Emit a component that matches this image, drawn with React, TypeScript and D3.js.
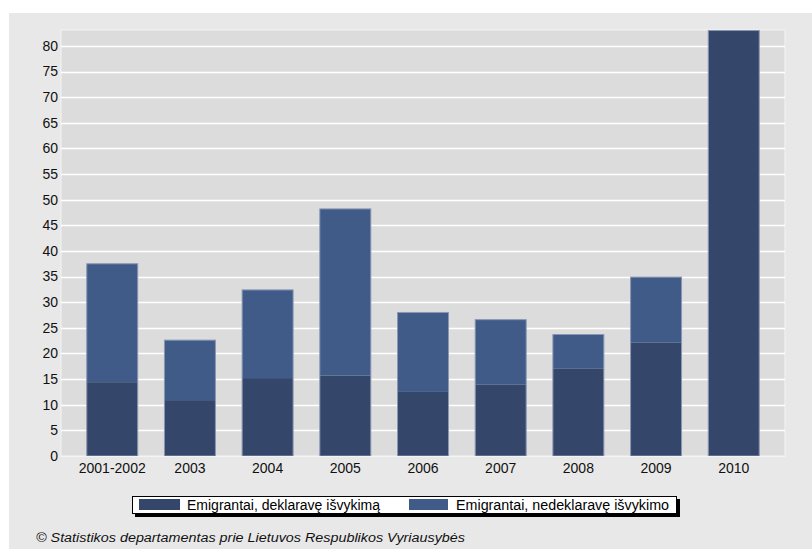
import React from "react";
import * as d3 from "d3";

const categories = ["2001-2002", "2003", "2004", "2005", "2006", "2007", "2008", "2009", "2010"];
const declared = [14.4, 10.9, 15.2, 15.7, 12.5, 13.9, 17.1, 22.1, 83.0];
const undeclared = [23.1, 11.7, 17.2, 32.5, 15.5, 12.7, 6.6, 12.8, 0];
const seriesNames = ["Emigrantai, deklaravę išvykimą", "Emigrantai, nedeklaravę išvykimo"];
const yTicks = [0, 5, 10, 15, 20, 25, 30, 35, 40, 45, 50, 55, 60, 65, 70, 75, 80];
const footer = "© Statistikos departamentas prie Lietuvos Respublikos Vyriausybės";

const colors = ["#34476a", "#415b88"];

export default function App() {
  const W = 812, H = 549;
  const plot = { left: 61, top: 30, right: 785, bottom: 456 };

  const x = d3.scaleBand()
    .domain(categories)
    .range([plot.left, plot.right])
    .paddingInner(0.331)
    .paddingOuter(0.325);
  const y = d3.scaleLinear().domain([0, 83.1]).range([plot.bottom, plot.top]);

  const rows = categories.map((c, i) => ({ cat: c, a: declared[i], b: undeclared[i] }));
  const stacked = d3.stack<any>().keys(["a", "b"])(rows);

  const font = "Arial, 'Liberation Sans', sans-serif";

  return (
    <svg width={W} height={H} style={{ position: "absolute", left: 0, top: 0, display: "block" }}>
      <rect x={0} y={0} width={W} height={H} fill="#ffffff" />
      <rect x={9} y={13} width={W - 9} height={H - 13} fill="#e8e8e8" />
      <rect x={plot.left} y={plot.top} width={plot.right - plot.left} height={plot.bottom - plot.top}
        fill="#dcdcdc" stroke="#f4f4f4" strokeWidth={1} />
      {yTicks.map(t => (
        <g key={t}>
          {t > 0 && (
            <line x1={plot.left} x2={plot.right} y1={Math.round(y(t)) + 0.5} y2={Math.round(y(t)) + 0.5}
              stroke="#ffffff" strokeWidth={1.3} />
          )}
          <text x={58} y={y(t)} dy="0.35em" textAnchor="end" fontFamily={font} fontSize={14} fill="#111">
            {t}
          </text>
        </g>
      ))}
      {stacked.map((s, si) => (
        <g key={si}>
          {s.map((d, i) => (d[1] - d[0] > 0 ? (
            <rect key={i}
              x={x(categories[i])! + 0.5}
              y={y(d[1])}
              width={x.bandwidth() - 1}
              height={y(d[0]) - y(d[1])}
              fill={colors[si]} />
          ) : null))}
        </g>
      ))}
      {categories.map((c, i) => {
        const top = y(declared[i] + undeclared[i]);
        return (
          <rect key={c} x={x(c)! + 0.5} y={top} width={x.bandwidth() - 1} height={plot.bottom - top}
            fill="none" stroke="#8a97b4" strokeWidth={1} />
        );
      })}
      <line x1={plot.left} x2={plot.right} y1={plot.bottom + 0.5} y2={plot.bottom + 0.5} stroke="#f4f4f4" strokeWidth={1} />
      {categories.map(c => (
        <text key={c} x={x(c)! + x.bandwidth() / 2} y={468} dy="0.35em" textAnchor="middle"
          fontFamily={font} fontSize={14} fill="#111">{c}</text>
      ))}
      <g>
        <rect x={135} y={499} width={545} height={18} fill="#000" />
        <rect x={132.5} y={496.5} width={544} height={17} fill="#ffffff" stroke="#000" strokeWidth={1} />
        <rect x={139} y={499} width={41} height={11} fill={colors[0]} />
        <text x={187} y={505} dy="0.35em" fontFamily={font} fontSize={14} fill="#000">{seriesNames[0]}</text>
        <rect x={409} y={499} width={39} height={11} fill={colors[1]} />
        <text x={456} y={505} dy="0.35em" fontFamily={font} fontSize={14} fill="#000"
          textLength={213} lengthAdjust="spacingAndGlyphs">{seriesNames[1]}</text>
      </g>
      <text x={36} y={538} dy="0.35em" fontFamily={font} fontSize={12} fontStyle="italic" fill="#111"
        textLength={429} lengthAdjust="spacingAndGlyphs">{footer}</text>
    </svg>
  );
}
